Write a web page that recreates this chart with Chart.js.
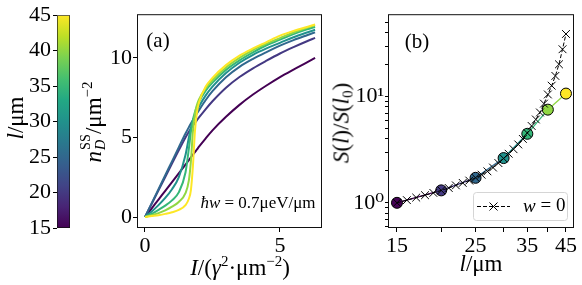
<!DOCTYPE html>
<html>
<head>
<meta charset="utf-8">
<title>Steady-state density and S(l)/S(l0)</title>
<script src="https://cdn.jsdelivr.net/npm/chart.js@4.4.1/dist/chart.umd.min.js"></script>
<style>
  body { margin: 0; background: #fff; }
  #fig { position: relative; width: 582px; height: 285px; overflow: hidden; font-family: "Liberation Serif", "DejaVu Serif", serif; color: #000; }
  #fig canvas { position: absolute; top: 0; }
  .txt { position: absolute; white-space: nowrap; line-height: 1; transform: translate(-50%, -50%); }
  .rot { transform: translate(-50%, -50%) rotate(-90deg); }
  .stack { display: inline-flex; flex-direction: column; font-size: 0.62em; line-height: 1.05; vertical-align: 0.75em; margin-left: 1px; }
  sup { font-size: 0.65em; line-height: 0; vertical-align: 0.6em; }
  sub { font-size: 0.65em; line-height: 0; vertical-align: -0.3em; }
</style>
</head>
<body>
<div id="fig">
  <canvas id="cbar" width="80" height="285" style="left:0"></canvas>
  <canvas id="panelA" width="240" height="285" style="left:90px"></canvas>
  <canvas id="panelB" width="252" height="285" style="left:330px"></canvas>

  <div class="txt rot" style="left:15px;top:118px;font-size:23px"><i>l</i>/μm</div>
  <div class="txt rot" style="left:93px;top:122px;font-size:23px"><i>n</i><span class="stack"><span>SS</span><i>D</i></span>/μm<sup>−2</sup></div>
  <div class="txt" style="left:240px;top:267px;font-size:23px"><i>I</i>/(<i>γ</i><sup>2</sup>·μm<sup>−2</sup>)</div>
  <div class="txt" style="left:158px;top:40px;font-size:21px">(a)</div>
  <div class="txt" style="left:258px;top:202px;font-size:17px"><i>ħw</i> = 0.7μeV/μm</div>
  <div class="txt" style="left:481px;top:263px;font-size:23px"><i>l</i>/μm</div>
  <div class="txt rot" style="left:341px;top:123px;font-size:23px"><i>S</i>(<i>l</i>)/<i>S</i>(<i>l</i><sub>0</sub>)</div>
  <div class="txt" style="left:417px;top:41px;font-size:21px">(b)</div>
</div>

<script>
// viridis stops for the colourbar
const viridisStops = ['#440154', '#482475', '#414487', '#355f8d', '#2a788e', '#21918c', '#22a884', '#44bf70', '#7ad151', '#bddf26', '#fde725'];

// colourbar
const cbarRange = [15, 45];
const cbarTicks = [15, 20, 25, 30, 35, 40, 45];

// system lengths l (um) and their colours
const lengths = [15, 20, 25, 30, 35, 40, 45];
const lengthColors = ['#440154', '#443983', '#31688e', '#21918c', '#35b779', '#90d743', '#fde725'];

// (a) n_D^SS vs I, one curve per length
const intensity = [0, 0.25, 0.5, 0.75, 1, 1.25, 1.5, 1.625, 1.7, 1.775, 1.85, 1.925, 2, 2.25, 2.5, 3, 3.5, 4, 4.5, 5, 5.5, 6, 6.3];
const nD15 = [0, 0.55, 1.1, 1.65, 2.2, 2.75, 3.3, 3.58, 3.75, 3.92, 4.08, 4.25, 4.42, 4.95, 5.45, 6.3, 7.05, 7.7, 8.27, 8.8, 9.27, 9.72, 10.0];
const nD20 = [0, 0.84, 1.68, 2.52, 3.36, 4.19, 5.0, 5.36, 5.56, 5.74, 5.92, 6.09, 6.26, 6.79, 7.28, 8.13, 8.8, 9.35, 9.83, 10.28, 10.68, 11.05, 11.26];
const nD25 = [0, 0.88, 1.75, 2.63, 3.5, 4.38, 5.25, 5.65, 5.88, 6.1, 6.31, 6.52, 6.72, 7.36, 7.91, 8.79, 9.44, 9.94, 10.37, 10.77, 11.12, 11.43, 11.61];
const nD30 = [0, 0.35, 0.75, 1.2, 1.75, 2.5, 3.9, 5.0, 5.6, 6.05, 6.4, 6.7, 6.95, 7.65, 8.2, 9.05, 9.7, 10.2, 10.6, 10.95, 11.3, 11.6, 11.77];
const nD35 = [0, 0.2, 0.45, 0.72, 1.05, 1.55, 2.8, 4.3, 5.35, 6.1, 6.6, 6.95, 7.25, 7.95, 8.45, 9.25, 9.85, 10.35, 10.8, 11.15, 11.5, 11.8, 11.95];
const nD40 = [0, 0.12, 0.25, 0.42, 0.65, 0.95, 1.5, 2.3, 3.5, 5.4, 6.5, 7.05, 7.4, 8.1, 8.6, 9.4, 10.0, 10.5, 10.9, 11.25, 11.6, 11.9, 12.05];
const nD45 = [0, 0.06, 0.12, 0.2, 0.3, 0.45, 0.75, 1.15, 1.7, 3.2, 5.4, 6.6, 7.2, 8.2, 8.75, 9.55, 10.15, 10.6, 11.0, 11.4, 11.7, 11.95, 12.1];
const aTicksX = [0, 5];
const aTicksY = [0, 5, 10];

// (b) S(l)/S(l0)
const ratioW = [1.0, 1.31, 1.72, 2.64, 4.47, 7.55, 10.7];
const lengthsW0 = [15, 16, 17, 18, 19, 20, 21, 22, 23, 24, 25, 26, 27, 28, 29, 30, 31, 32, 33, 34, 35, 36, 37, 38, 39, 40, 41, 42, 43, 44, 45];
const ratioW0 = [1.0, 1.06, 1.12, 1.18, 1.24, 1.31, 1.38, 1.46, 1.54, 1.62, 1.72, 1.84, 1.98, 2.15, 2.37, 2.62, 2.9, 3.2, 3.55, 4.0, 4.55, 5.3, 6.1, 7.1, 8.6, 10.5, 12.7, 15.7, 20.2, 28, 39];
const bTicksX = [15, 20, 25, 30, 35, 40, 45];
const bLabelsX = [15, 25, 35, 45];
const bTicksY = [0.6, 0.7, 0.8, 0.9, 1, 2, 3, 4, 5, 6, 7, 8, 9, 10, 20, 30, 40, 50];
const bLabelValsY = [1, 10];
const bLabelTextY = ['10⁰', '10¹'];

Chart.defaults.font.family = '"Liberation Serif", "DejaVu Serif", serif';
Chart.defaults.font.size = 22;
Chart.defaults.color = '#000';

// box round the plot area, like matplotlib spines
const frame = {
  id: 'frame',
  afterDatasetsDraw(chart) {
    const { ctx, chartArea: a } = chart;
    ctx.save();
    ctx.strokeStyle = '#111';
    ctx.lineWidth = 1;
    ctx.strokeRect(a.left + 0.5, a.top + 0.5, a.right - a.left - 1, a.bottom - a.top - 1);
    ctx.restore();
  }
};

// legend inside panel (b), lower right
const legendBox = {
  id: 'legendBox',
  afterDraw(chart) {
    const { ctx, chartArea: a } = chart;
    const ds = chart.data.datasets[0];
    const w = 94, h = 28;
    const x0 = a.right - 7 - w, y0 = a.bottom - 8 - h;
    ctx.save();
    ctx.fillStyle = 'rgba(255,255,255,0.8)';
    ctx.strokeStyle = '#d5d5d5';
    ctx.lineWidth = 1;
    ctx.beginPath();
    ctx.roundRect(x0 + 0.5, y0 + 0.5, w, h, 3);
    ctx.fill();
    ctx.stroke();
    const cy = y0 + h / 2 + 0.5;
    ctx.strokeStyle = '#000';
    ctx.setLineDash([4, 2]);
    ctx.beginPath();
    ctx.moveTo(x0 + 4, cy);
    ctx.lineTo(x0 + 37, cy);
    ctx.stroke();
    ctx.setLineDash([]);
    const mx = x0 + 20.5, r = 4;
    ctx.beginPath();
    ctx.moveTo(mx - r, cy - r); ctx.lineTo(mx + r, cy + r);
    ctx.moveTo(mx - r, cy + r); ctx.lineTo(mx + r, cy - r);
    ctx.stroke();
    ctx.fillStyle = '#000';
    ctx.textBaseline = 'middle';
    ctx.font = 'italic 19px "Liberation Serif", serif';
    const first = ds.label.charAt(0);
    ctx.fillText(first, x0 + 50, cy);
    const fw = ctx.measureText(first).width;
    ctx.font = '19px "Liberation Serif", serif';
    ctx.fillText(ds.label.slice(1), x0 + 50 + fw, cy);
    ctx.restore();
  }
};

const tickGrid = { drawOnChartArea: false, tickLength: 4, color: '#000' };

// colourbar
new Chart(document.getElementById('cbar'), {
  type: 'bar',
  data: {
    labels: [''],
    datasets: [{
      data: [cbarRange],
      backgroundColor(c) {
        const area = c.chart.chartArea;
        if (!area) return viridisStops[0];
        const g = c.chart.ctx.createLinearGradient(0, area.bottom, 0, area.top);
        viridisStops.forEach((col, i) => g.addColorStop(i / (viridisStops.length - 1), col));
        return g;
      },
      borderColor: '#111',
      borderWidth: 1,
      borderSkipped: false,
      barPercentage: 1,
      categoryPercentage: 1,
    }],
  },
  options: {
    responsive: false,
    animation: false,
    layout: { padding: { top: 13, right: 10, bottom: 57, left: 0 } },
    plugins: { legend: { display: false }, tooltip: { enabled: false } },
    scales: {
      x: { display: false },
      y: {
        min: cbarRange[0], max: cbarRange[1], bounds: 'data',
        afterBuildTicks: s => { s.ticks = cbarTicks.map(v => ({ value: v })); },
        afterFit: s => { s.width = 57; },
        grid: tickGrid,
        border: { display: false },
        ticks: { padding: 2 },
      },
    },
  },
});

// (a)
const curves = [nD15, nD20, nD25, nD30, nD35, nD40, nD45];
new Chart(document.getElementById('panelA'), {
  type: 'line',
  data: {
    datasets: curves.map((ys, k) => ({
      label: 'l = ' + lengths[k] + ' μm',
      data: intensity.map((x, i) => ({ x: x, y: ys[i] })),
      borderColor: lengthColors[k],
      borderWidth: 2,
      pointRadius: 0,
      cubicInterpolationMode: 'monotone',
      order: curves.length - k,
    })),
  },
  options: {
    responsive: false,
    animation: false,
    layout: { padding: { top: 13, right: 8, bottom: 0, left: 0 } },
    plugins: { legend: { display: false }, tooltip: { enabled: false } },
    scales: {
      x: {
        type: 'linear', min: -0.296, max: 6.556, bounds: 'data',
        afterBuildTicks: s => { s.ticks = aTicksX.map(v => ({ value: v })); },
        afterFit: s => { s.height = 57; },
        grid: tickGrid,
        border: { display: false },
        ticks: { padding: 1, maxRotation: 0 },
      },
      y: {
        type: 'linear', min: -0.6875, max: 12.75, bounds: 'data',
        afterBuildTicks: s => { s.ticks = aTicksY.map(v => ({ value: v })); },
        afterFit: s => { s.width = 47; },
        grid: tickGrid,
        border: { display: false },
        ticks: { padding: 1 },
      },
    },
  },
  plugins: [frame],
});

// (b)
new Chart(document.getElementById('panelB'), {
  type: 'line',
  data: {
    datasets: [
      {
        label: 'w = 0',
        data: lengthsW0.map((x, i) => ({ x: x, y: ratioW0[i] })),
        borderColor: '#000',
        borderWidth: 1,
        borderDash: [4, 2],
        pointStyle: 'crossRot',
        pointRadius: 5.5,
        pointBorderColor: '#000',
        pointBorderWidth: 1,
      },
      {
        label: 'hw = 0.7 ueV/um',
        data: lengths.map((x, i) => ({ x: x, y: ratioW[i] })),
        borderWidth: 1.3,
        segment: { borderColor: c => lengthColors[c.p0DataIndex] },
        pointRadius: 5.5,
        pointBackgroundColor: lengthColors,
        pointBorderColor: '#000',
        pointBorderWidth: 1,
      },
    ],
  },
  options: {
    responsive: false,
    animation: false,
    layout: { padding: { top: 13, right: 8, bottom: 0, left: 0 } },
    plugins: { legend: { display: false }, tooltip: { enabled: false } },
    scales: {
      x: {
        type: 'logarithmic', min: 14.15, max: 47.41, bounds: 'data',
        afterBuildTicks: s => { s.ticks = bTicksX.map(v => ({ value: v })); },
        afterFit: s => { s.height = 57; },
        grid: tickGrid,
        border: { display: false },
        ticks: {
          padding: 1, maxRotation: 0, autoSkip: false,
          callback: v => (bLabelsX.includes(v) ? String(v) : ''),
        },
      },
      y: {
        type: 'logarithmic', min: 0.579, max: 59.9, bounds: 'data',
        afterBuildTicks: s => { s.ticks = bTicksY.map(v => ({ value: v })); },
        afterFit: s => { s.width = 58; },
        grid: { drawOnChartArea: false, tickLength: 3, color: '#000' },
        border: { display: false },
        ticks: {
          padding: 1, autoSkip: false,
          callback: v => {
            const k = bLabelValsY.indexOf(v);
            return k < 0 ? '' : bLabelTextY[k];
          },
        },
      },
    },
  },
  plugins: [frame, legendBox],
});
</script>
</body>
</html>
